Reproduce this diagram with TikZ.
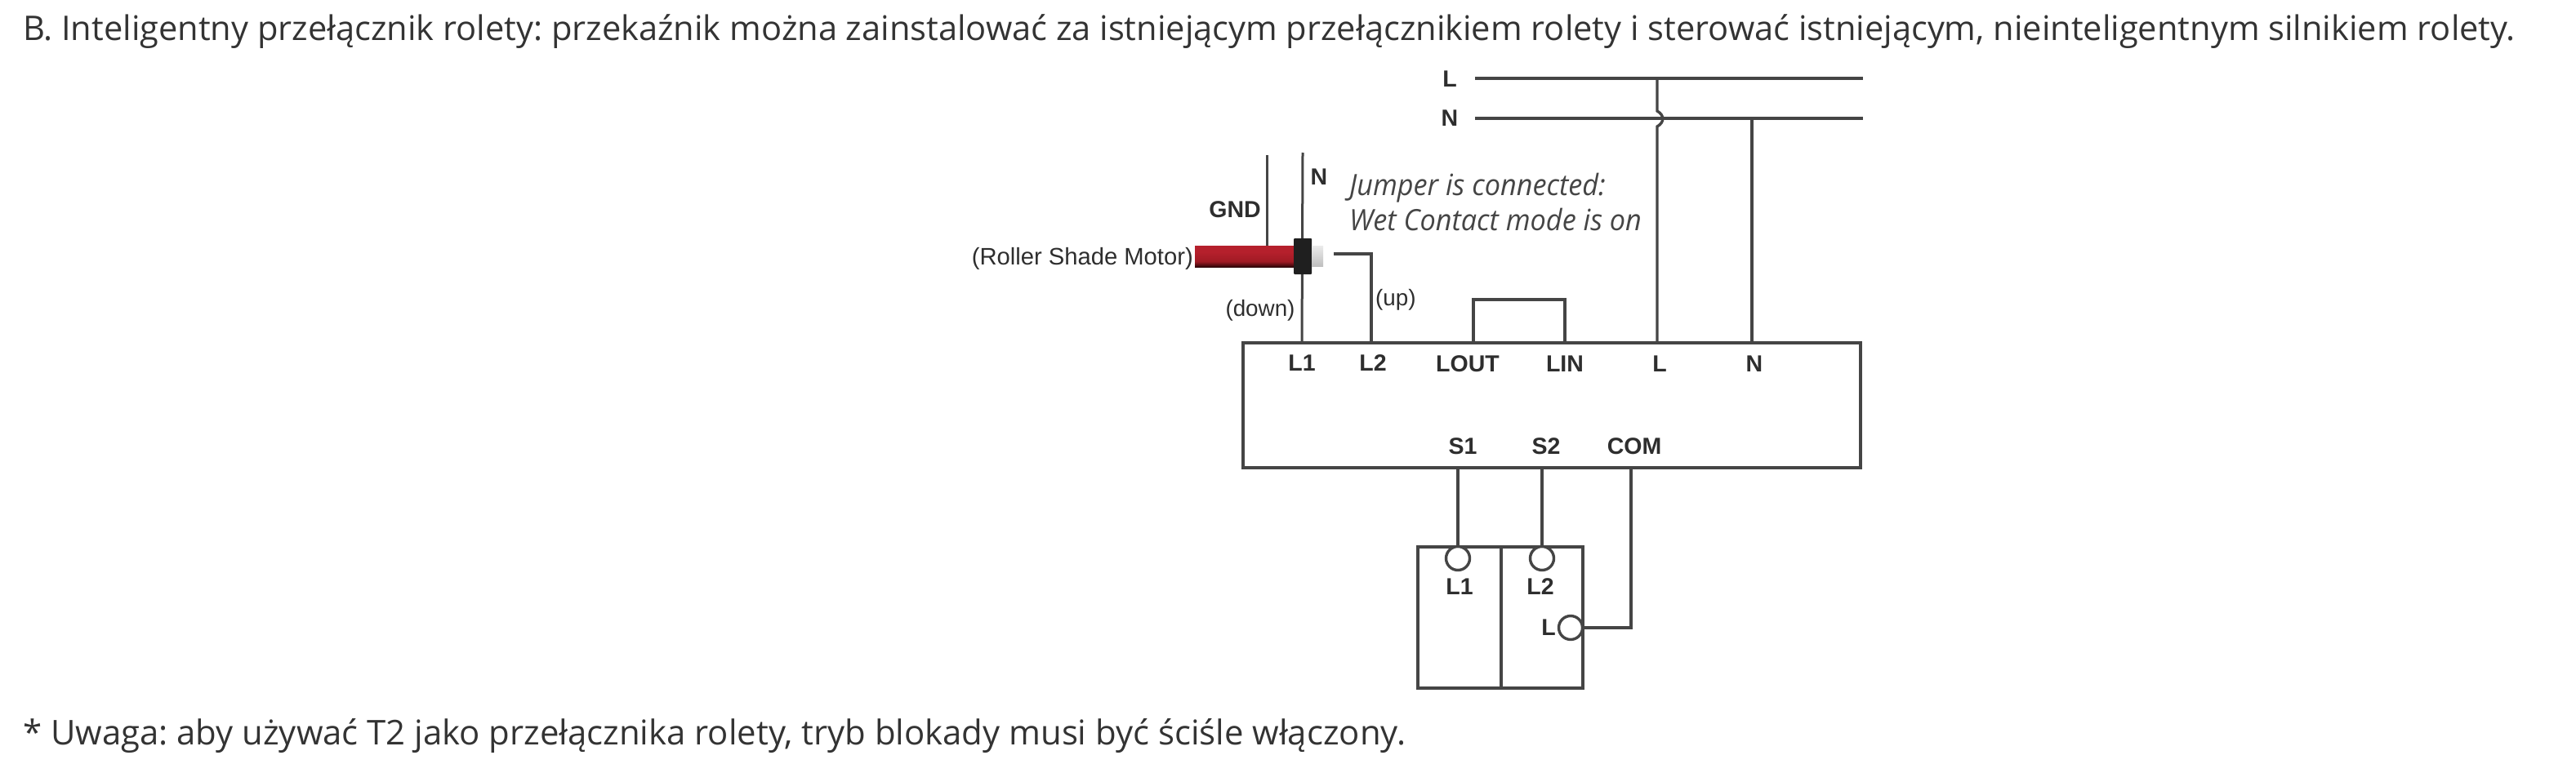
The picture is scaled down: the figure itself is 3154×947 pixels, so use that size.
\documentclass[tikz,border=0pt]{standalone}
\usepackage{fontspec}
\setmainfont{Liberation Sans}
\newfontfamily\headfont{Open Sans}
\newfontfamily\notefont[FakeStretch=0.95]{Open Sans}
\usetikzlibrary{calc}
\frenchspacing
\definecolor{wire}{HTML}{454545}
\definecolor{lab}{HTML}{2E2E2E}
\definecolor{headtxt}{HTML}{333333}
\definecolor{redtop}{HTML}{B5202C}
\definecolor{redmid}{HTML}{A01A24}
\definecolor{redlow}{HTML}{2E0508}
\pgfdeclareverticalshading{motorred}{100bp}{color(0bp)=(redlow); color(25bp)=(redlow); color(38bp)=(redmid); color(60bp)=(redtop); color(75bp)=(redtop); color(100bp)=(redtop)}
\tikzset{
  wireline/.style={draw=wire,line width=3.4pt,line join=miter},
  mainsline/.style={draw=wire,line width=4.4pt},
  boxline/.style={draw=wire,line width=4pt,outer sep=0pt},
  term/.style={font=\fontsize{28.5}{32}\selectfont\bfseries,text=lab,inner sep=0pt},
  plainlab/.style={font=\fontsize{27.8}{32}\selectfont,text=lab,inner sep=0pt},
  note/.style={font=\notefont\fontsize{36}{40}\selectfont\itshape,text=wire,inner sep=0pt,anchor=base west},
  head/.style={font=\headfont\fontsize{41.6}{50}\selectfont,text=headtxt,inner sep=0pt,anchor=base west},
  ring/.style={circle,draw=wire,line width=3.4pt,fill=white,minimum size=29pt,inner sep=0pt}
}
\begin{document}
\begin{tikzpicture}[x=1pt,y=-1pt]
\useasboundingbox (0,0) rectangle (3154,947);
\node[head] (title) at (28,50) {B. Inteligentny przełącznik rolety: przekaźnik można zainstalować za istniejącym przełącznikiem rolety i sterować istniejącym, nieinteligentnym silnikiem rolety.};
\node[head,font=\headfont\fontsize{41.85}{50}\selectfont] (foot) at (28,912) {* Uwaga: aby używać T2 jako przełącznika rolety, tryb blokady musi być ściśle włączony.};
% mains
\coordinate (mLa) at (1806,96); \coordinate (mLb) at (2281,96);
\coordinate (mNa) at (1806,145); \coordinate (mNb) at (2281,145);
\coordinate (tapL) at (2029,96); \coordinate (tapN) at (2145,145);
\coordinate (hopA) at (2029,136); \coordinate (hopB) at (2029,155);
\draw[mainsline] (mLa) -- (mLb);
\draw[mainsline] (mNa) -- (mNb);
\node[term] (labL) at (1775,97) {L};
\node[term] (labN) at (1775,145) {N};
% relay box
\node[boxline,draw,rectangle,minimum width=756pt,minimum height=153pt,inner sep=0pt,anchor=north west] (relay) at (1522,420) {};
\coordinate (pL1) at (1594,420); \coordinate (pL2) at (1679,420);
\coordinate (pLOUT) at (1804,420); \coordinate (pLIN) at (1916,420);
\coordinate (pL) at (2029,420); \coordinate (pN) at (2145,420);
\coordinate (pS1) at (1785,573); \coordinate (pS2) at (1888,573); \coordinate (pCOM) at (1997,573);
\node[term] (tL1) at (1594,444.5) {L1};
\node[term] (tL2) at (1681,444.5) {L2};
\node[term] (tLOUT) at (1797,445.5) {LOUT};
\node[term] (tLIN) at (1916,445.5) {LIN};
\node[term] (tL) at (2032,445.5) {L};
\node[term] (tN) at (2148,445.5) {N};
\node[term] (tS1) at (1791,547) {S1};
\node[term] (tS2) at (1893,547) {S2};
\node[term] (tCOM) at (2001,547) {COM};
% mains to relay
\draw[wireline] (tapL) -- (hopA) .. controls (2038,141) and (2038,150) .. (hopB) -- (pL);
\draw[wireline] (tapN) -- (pN);
% jumper
\coordinate (jA) at (1804,367); \coordinate (jB) at (1916,367);
\draw[wireline] (pLOUT) -- (jA) -- (jB) -- (pLIN);
% motor wires
\coordinate (gndTop) at (1551,190); \coordinate (gndBot) at (1551,302);
\coordinate (nTop) at (1595,187);
\draw[wireline,line width=3pt] (gndTop) -- (gndBot);
\draw[wireline,line width=3pt] (nTop) -- (pL1);
\coordinate (upA) at (1633,311); \coordinate (upB) at (1679,311);
\draw[wireline] (upA) -- (upB) -- (pL2);
% motor
\shade[shading=motorred] (1463,301) rectangle (1585,327);
\fill[rounded corners=1pt,fill=black!88] (1584,292) rectangle (1606,336);
\shade[top color=black!8,bottom color=black!25] (1606,301) rectangle (1620,326);
\node[term] (labNm) at (1615,217) {N};
\node[term] (labGND) at (1512,257) {GND};
\node[plainlab,anchor=east,font=\fontsize{29.2}{32}\selectfont] (labMotor) at (1461,317) {(Roller Shade Motor)};
\node[plainlab] (labDown) at (1543,380) {(down)};
\node[plainlab,anchor=west] (labUp) at (1684,367) {(up)};
\node[note] (note1) at (1652,239) {Jumper is connected:};
\node[note] (note2) at (1652,282) {Wet Contact mode is on};
% wall switch
\node[boxline,draw,rectangle,line width=3.4pt,minimum width=202pt,minimum height=173pt,inner sep=0pt,anchor=north west] (sw) at (1736,670) {};
\coordinate (swTop) at (1838,670); \coordinate (swBot) at (1838,843);
\draw[wireline] (swTop) -- (swBot);
\node[ring] (c1) at (1785,684) {};
\node[ring] (c2) at (1888,684) {};
\node[ring] (c3) at (1923,769) {};
\draw[wireline] (pS1) -- (c1.north);
\draw[wireline] (pS2) -- (c2.north);
\coordinate (comK) at (1997,769);
\draw[wireline] (pCOM) -- (comK) -- (c3.east);
\node[term] (sL1) at (1787,719) {L1};
\node[term] (sL2) at (1886,719) {L2};
\node[term] (sL) at (1896,769) {L};
\end{tikzpicture}
\end{document}
